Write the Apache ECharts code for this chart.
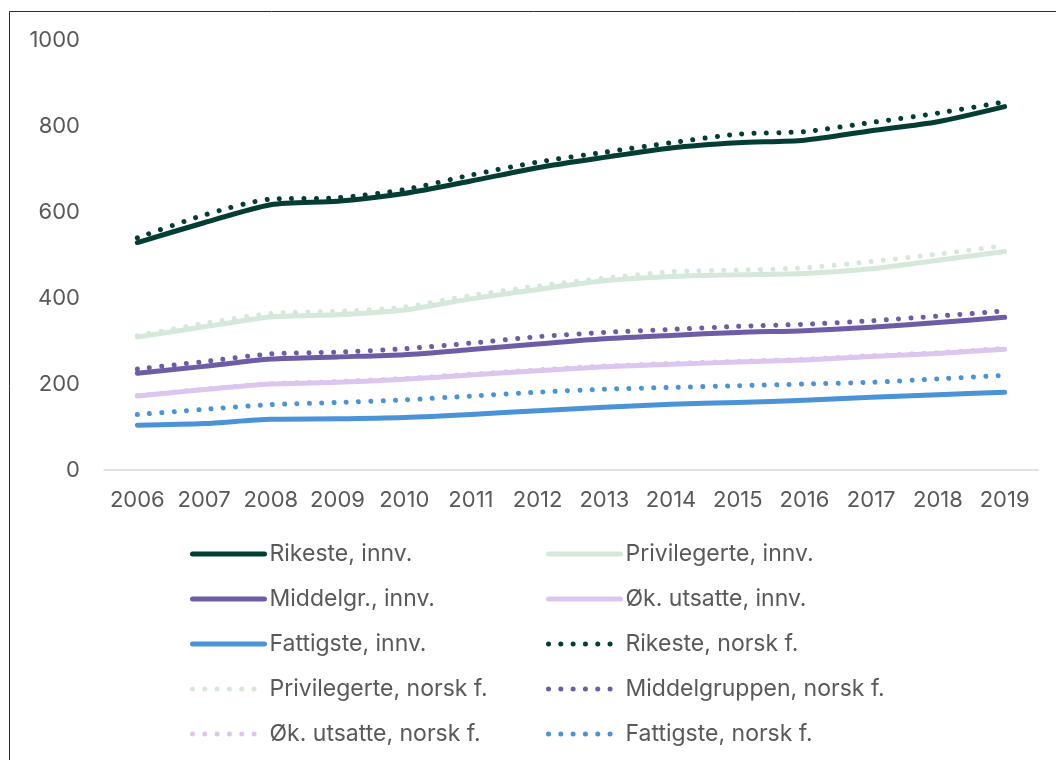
<!DOCTYPE html>
<html>
<head>
<meta charset="utf-8">
<script src="https://cdn.jsdelivr.net/npm/echarts@6/dist/echarts.min.js"></script>
<style>html,body{margin:0;padding:0;background:#fff;}#c{width:1056px;height:760px;}</style>
</head>
<body>
<div id="c"></div>
<script>
const years = ['2006','2007','2008','2009','2010','2011','2012','2013','2014','2015','2016','2017','2018','2019'];
const yTicks = [0, 200, 400, 600, 800, 1000];

const seriesNames = [
  'Rikeste, innv.', 'Privilegerte, innv.', 'Middelgr., innv.', 'Øk. utsatte, innv.', 'Fattigste, innv.',
  'Rikeste, norsk f.', 'Privilegerte, norsk f.', 'Middelgruppen, norsk f.', 'Øk. utsatte, norsk f.', 'Fattigste, norsk f.'
];

const rikesteInnv      = [529, 575, 617, 625, 643, 672, 703, 727, 749, 761, 767, 789, 810, 845];
const privilegerteInnv = [309, 333, 356, 361, 372, 398, 420, 440, 450, 454, 457, 468, 488, 508];
const middelgrInnv     = [225, 241, 258, 263, 268, 280, 293, 305, 313, 320, 324, 332, 343, 355];
const okUtsatteInnv    = [172, 187, 200, 204, 211, 221, 231, 240, 246, 251, 256, 264, 271, 281];
const fattigsteInnv    = [104, 108, 118, 119, 122, 129, 138, 146, 153, 157, 162, 169, 175, 181];

const rikesteNorsk      = [540, 593, 630, 633, 652, 686, 716, 739, 761, 781, 787, 808, 830, 856];
const privilegerteNorsk = [312, 341, 364, 369, 379, 406, 428, 446, 461, 465, 470, 485, 502, 522];
const middelgrNorsk     = [235, 252, 270, 274, 282, 295, 310, 320, 327, 334, 339, 347, 358, 370];
const okUtsatteNorsk    = [173, 188, 201, 206, 213, 223, 233, 242, 248, 253, 258, 266, 273, 283];
const fattigsteNorsk    = [129, 141, 152, 157, 163, 172, 181, 188, 192, 196, 200, 204, 212, 220];

const dataSets = [rikesteInnv, privilegerteInnv, middelgrInnv, okUtsatteInnv, fattigsteInnv,
                  rikesteNorsk, privilegerteNorsk, middelgrNorsk, okUtsatteNorsk, fattigsteNorsk];
const colors = ['#033d33', '#d5e8d9', '#6e5ca6', '#dcc6ef', '#4a93d8',
                '#033d33', '#d5e8d9', '#6e5ca6', '#dcc6ef', '#4a93d8'];

function lineStyleFor(i) {
  return {
    color: colors[i],
    width: 5,
    type: i < 5 ? 'solid' : [0.01, 12.3],
    cap: 'round',
    join: 'round'
  };
}

const series = dataSets.map((d, i) => ({
  name: seriesNames[i],
  type: 'line',
  data: d,
  symbol: 'none',
  smooth: 0.25,
  z: i < 5 ? 2 : 3,
  lineStyle: lineStyleFor(i),
  itemStyle: { color: colors[i] },
  emphasis: { disabled: true }
}));

function legendItem(i) {
  return { name: seriesNames[i], itemStyle: { opacity: 0 }, lineStyle: lineStyleFor(i) };
}

const legendCommon = {
  orient: 'vertical',
  top: 542,
  padding: 0,
  itemWidth: 72,
  itemHeight: 14,
  itemGap: 21,
  selectedMode: false,
  textStyle: { fontFamily: 'Inter', fontSize: 23, color: '#595959', lineHeight: 24 }
};

const option = {
  animation: false,
  backgroundColor: '#ffffff',
  textStyle: { fontFamily: 'Inter' },
  graphic: [{
    type: 'rect',
    shape: { x: 9.5, y: 11.5, width: 1200, height: 900 },
    style: { fill: 'none', stroke: '#0b3b33', lineWidth: 1 },
    silent: true, z: -1
  }],
  grid: { left: 104, right: 18, top: 40, bottom: 290, containLabel: false },
  xAxis: {
    type: 'category',
    data: years,
    boundaryGap: true,
    axisLine: { show: true, lineStyle: { color: '#d9d9d9', width: 1.5 } },
    axisTick: { show: false },
    axisLabel: { fontFamily: 'Inter', fontSize: 22, color: '#595959', margin: 19, interval: 0, hideOverlap: false },
    splitLine: { show: false }
  },
  yAxis: {
    type: 'value',
    min: yTicks[0],
    max: yTicks[yTicks.length - 1],
    interval: 200,
    axisLine: { show: false },
    axisTick: { show: false },
    splitLine: { show: false },
    axisLabel: { fontFamily: 'Inter', fontSize: 22, color: '#595959', margin: 24, formatter: v => String(v) }
  },
  legend: [
    Object.assign({}, legendCommon, { left: 190, data: [0, 2, 4, 6, 8].map(legendItem) }),
    Object.assign({}, legendCommon, { left: 546, data: [1, 3, 5, 7, 9].map(legendItem) })
  ],
  series: series
};

const chart = echarts.init(document.getElementById('c'), null, { renderer: 'canvas' });
chart.setOption(option);
</script>
</body>
</html>
